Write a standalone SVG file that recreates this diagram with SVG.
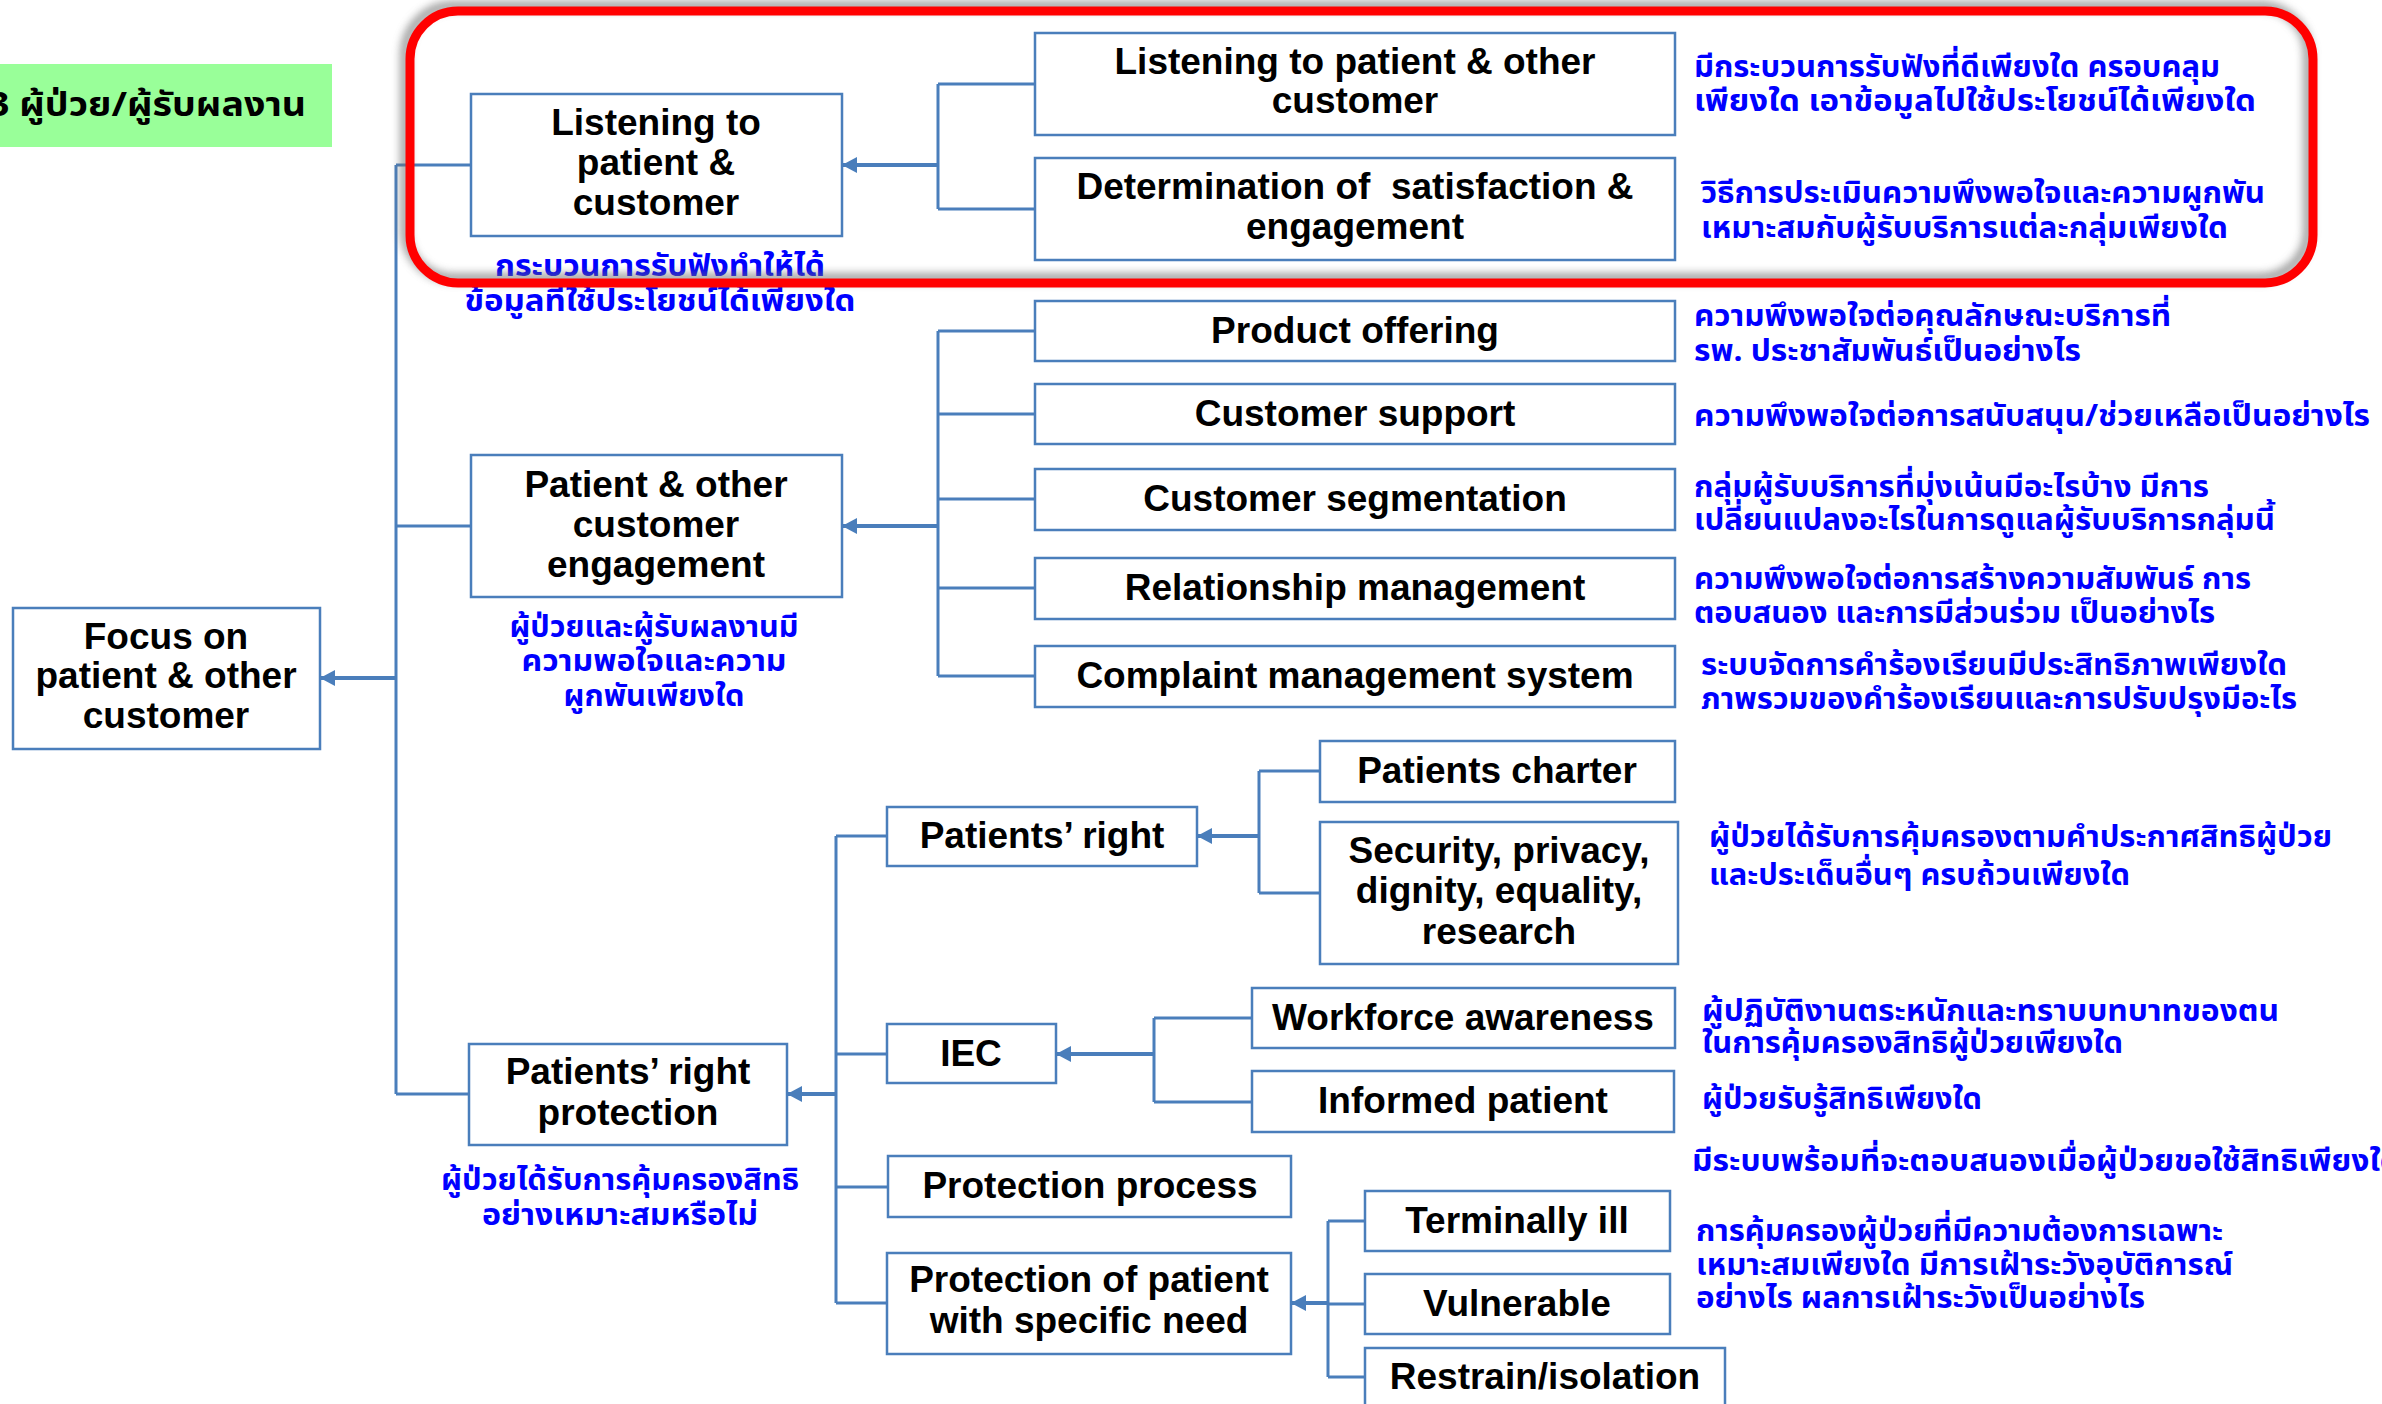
<svg xmlns="http://www.w3.org/2000/svg" width="2382" height="1404" viewBox="0 0 2382 1404">
  <defs>
    <style>
      .box { fill: #ffffff; stroke: #4a7ebb; stroke-width: 2.5; }
      .lbl { font-family: "Liberation Sans", Arial, sans-serif; font-weight: bold; font-size: 37px; fill: #000000; text-anchor: middle; white-space: pre; }
      .th { font-family: "Noto Sans Thai", "Noto Sans Thai Looped", Tahoma, "Noto Sans", "DejaVu Sans", sans-serif; font-size: 30px; font-weight: bold; fill: #0000ff; }
      .thc { text-anchor: middle; }
      .ln { fill: none; stroke: #4a7ebb; stroke-width: 3; }
      .ar { fill: none; stroke: #4a7ebb; stroke-width: 4; marker-end: url(#head); }
    </style>
    <marker id="head" markerUnits="userSpaceOnUse" markerWidth="16" markerHeight="18" refX="15" refY="9" orient="auto">
      <path d="M0,1 L15,9 L0,17 z" fill="#4a7ebb"/>
    </marker>
    <filter id="soft" x="-5%" y="-20%" width="110%" height="140%">
      <feGaussianBlur stdDeviation="4"/>
    </filter>
  </defs>

  <rect width="2382" height="1404" fill="#ffffff"/>

  <!-- heading tag -->
  <g id="heading">
    <rect x="0" y="64" width="332" height="83" fill="#99ff99"/>
    <text x="-12" y="116" textLength="318" lengthAdjust="spacingAndGlyphs" style="font-family: 'Noto Sans Thai', Tahoma, 'Noto Sans', sans-serif; font-size: 34px; font-weight: bold; fill: #000;">3 ผู้ป่วย/ผู้รับผลงาน</text>
  </g>

  <!-- connectors -->
  <g id="connectors">
    <!-- main trunk -->
    <path class="ln" d="M396,165 V1094 M396,165 H471 M396,526 H471 M396,1094 H469"/>
    <path class="ar" d="M396,678 H320"/>
    <!-- listening branch -->
    <path class="ln" d="M938,84 V209 M938,84 H1035 M938,209 H1035"/>
    <path class="ar" d="M938,165 H842"/>
    <!-- engagement branch -->
    <path class="ln" d="M938,331 V676 M938,331 H1035 M938,414 H1035 M938,499 H1035 M938,588 H1035 M938,676 H1035"/>
    <path class="ar" d="M938,526 H842"/>
    <!-- rights protection branch -->
    <path class="ln" d="M836,836 V1303 M836,836 H887 M836,1054 H887 M836,1187 H888 M836,1303 H887"/>
    <path class="ar" d="M836,1094 H787"/>
    <!-- patients' right -->
    <path class="ln" d="M1259,771 V893 M1259,771 H1320 M1259,893 H1320"/>
    <path class="ar" d="M1259,836 H1197"/>
    <!-- IEC -->
    <path class="ln" d="M1154,1018 V1102 M1154,1018 H1252 M1154,1102 H1252"/>
    <path class="ar" d="M1154,1054 H1056"/>
    <!-- specific need -->
    <path class="ln" d="M1328,1221 V1377 M1328,1221 H1365 M1328,1304 H1365 M1328,1377 H1365"/>
    <path class="ar" d="M1328,1303 H1291"/>
  </g>

  <!-- root -->
  <g id="n-focus">
    <rect class="box" x="13" y="608" width="307" height="141"/>
    <text class="lbl" x="166" y="649">Focus on</text>
    <text class="lbl" x="166" y="688">patient &amp; other</text>
    <text class="lbl" x="166" y="728">customer</text>
  </g>

  <!-- level 1 -->
  <g id="n-listen">
    <rect class="box" x="471" y="94" width="371" height="142"/>
    <text class="lbl" x="656" y="135">Listening to</text>
    <text class="lbl" x="656" y="175">patient &amp;</text>
    <text class="lbl" x="656" y="215">customer</text>
    <text class="th thc" x="660" y="276" textLength="330" lengthAdjust="spacingAndGlyphs">กระบวนการรับฟังทำให้ได้</text>
    <text class="th thc" x="660" y="311" textLength="391" lengthAdjust="spacingAndGlyphs">ข้อมูลที่ใช้ประโยชน์ได้เพียงใด</text>
  </g>

  <g id="n-engage">
    <rect class="box" x="471" y="455" width="371" height="142"/>
    <text class="lbl" x="656" y="497">Patient &amp; other</text>
    <text class="lbl" x="656" y="537">customer</text>
    <text class="lbl" x="656" y="577">engagement</text>
    <text class="th thc" x="654" y="637" textLength="289" lengthAdjust="spacingAndGlyphs">ผู้ป่วยและผู้รับผลงานมี</text>
    <text class="th thc" x="654" y="671" textLength="265" lengthAdjust="spacingAndGlyphs">ความพอใจและความ</text>
    <text class="th thc" x="654" y="706" textLength="181" lengthAdjust="spacingAndGlyphs">ผูกพันเพียงใด</text>
  </g>

  <g id="n-rights">
    <rect class="box" x="469" y="1044" width="318" height="101"/>
    <text class="lbl" x="628" y="1084">Patients’ right</text>
    <text class="lbl" x="628" y="1125">protection</text>
    <text class="th thc" x="620" y="1190" textLength="358" lengthAdjust="spacingAndGlyphs">ผู้ป่วยได้รับการคุ้มครองสิทธิ</text>
    <text class="th thc" x="620" y="1225" textLength="276" lengthAdjust="spacingAndGlyphs">อย่างเหมาะสมหรือไม่</text>
  </g>

  <!-- listening children -->
  <g id="n-listen-other">
    <rect class="box" x="1035" y="33" width="640" height="102"/>
    <text class="lbl" x="1355" y="74">Listening to patient &amp; other</text>
    <text class="lbl" x="1355" y="113">customer</text>
    <text class="th" x="1694" y="77" textLength="526" lengthAdjust="spacingAndGlyphs">มีกระบวนการรับฟังที่ดีเพียงใด ครอบคลุม</text>
    <text class="th" x="1694" y="111" textLength="562" lengthAdjust="spacingAndGlyphs">เพียงใด เอาข้อมูลไปใช้ประโยชน์ได้เพียงใด</text>
  </g>

  <g id="n-satisfaction">
    <rect class="box" x="1035" y="158" width="640" height="102"/>
    <text class="lbl" x="1355" y="199">Determination of  satisfaction &amp;</text>
    <text class="lbl" x="1355" y="239">engagement</text>
    <text class="th" x="1701" y="203" textLength="564" lengthAdjust="spacingAndGlyphs">วิธีการประเมินความพึงพอใจและความผูกพัน</text>
    <text class="th" x="1701" y="238" textLength="527" lengthAdjust="spacingAndGlyphs">เหมาะสมกับผู้รับบริการแต่ละกลุ่มเพียงใด</text>
  </g>

  <!-- engagement children -->
  <g id="n-product">
    <rect class="box" x="1035" y="301" width="640" height="60"/>
    <text class="lbl" x="1355" y="343">Product offering</text>
    <text class="th" x="1694" y="326" textLength="477" lengthAdjust="spacingAndGlyphs">ความพึงพอใจต่อคุณลักษณะบริการที่</text>
    <text class="th" x="1694" y="361" textLength="387" lengthAdjust="spacingAndGlyphs">รพ. ประชาสัมพันธ์เป็นอย่างไร</text>
  </g>

  <g id="n-support">
    <rect class="box" x="1035" y="384" width="640" height="60"/>
    <text class="lbl" x="1355" y="426">Customer support</text>
    <text class="th" x="1694" y="426" textLength="676" lengthAdjust="spacingAndGlyphs">ความพึงพอใจต่อการสนับสนุน/ช่วยเหลือเป็นอย่างไร</text>
  </g>

  <g id="n-segmentation">
    <rect class="box" x="1035" y="469" width="640" height="61"/>
    <text class="lbl" x="1355" y="511">Customer segmentation</text>
    <text class="th" x="1694" y="497" textLength="515" lengthAdjust="spacingAndGlyphs">กลุ่มผู้รับบริการที่มุ่งเน้นมีอะไรบ้าง มีการ</text>
    <text class="th" x="1694" y="530" textLength="581" lengthAdjust="spacingAndGlyphs">เปลี่ยนแปลงอะไรในการดูแลผู้รับบริการกลุ่มนี้</text>
  </g>

  <g id="n-relationship">
    <rect class="box" x="1035" y="558" width="640" height="61"/>
    <text class="lbl" x="1355" y="600">Relationship management</text>
    <text class="th" x="1694" y="589" textLength="557" lengthAdjust="spacingAndGlyphs">ความพึงพอใจต่อการสร้างความสัมพันธ์ การ</text>
    <text class="th" x="1694" y="623" textLength="521" lengthAdjust="spacingAndGlyphs">ตอบสนอง และการมีส่วนร่วม เป็นอย่างไร</text>
  </g>

  <g id="n-complaint">
    <rect class="box" x="1035" y="646" width="640" height="61"/>
    <text class="lbl" x="1355" y="688">Complaint management system</text>
    <text class="th" x="1701" y="675" textLength="586" lengthAdjust="spacingAndGlyphs">ระบบจัดการคำร้องเรียนมีประสิทธิภาพเพียงใด</text>
    <text class="th" x="1701" y="709" textLength="596" lengthAdjust="spacingAndGlyphs">ภาพรวมของคำร้องเรียนและการปรับปรุงมีอะไร</text>
  </g>

  <!-- rights protection children -->
  <g id="n-patients-right">
    <rect class="box" x="887" y="807" width="310" height="59"/>
    <text class="lbl" x="1042" y="848">Patients’ right</text>
  </g>

  <g id="n-charter">
    <rect class="box" x="1320" y="741" width="355" height="61"/>
    <text class="lbl" x="1497" y="783">Patients charter</text>
  </g>

  <g id="n-security">
    <rect class="box" x="1320" y="822" width="358" height="142"/>
    <text class="lbl" x="1499" y="863">Security, privacy,</text>
    <text class="lbl" x="1499" y="903">dignity, equality,</text>
    <text class="lbl" x="1499" y="944">research</text>
    <text class="th" x="1709" y="847" textLength="623" lengthAdjust="spacingAndGlyphs">ผู้ป่วยได้รับการคุ้มครองตามคำประกาศสิทธิผู้ป่วย</text>
    <text class="th" x="1709" y="885" textLength="421" lengthAdjust="spacingAndGlyphs">และประเด็นอื่นๆ ครบถ้วนเพียงใด</text>
  </g>

  <g id="n-iec">
    <rect class="box" x="887" y="1024" width="169" height="59"/>
    <text class="lbl" x="971" y="1066">IEC</text>
  </g>

  <g id="n-workforce">
    <rect class="box" x="1252" y="988" width="423" height="60"/>
    <text class="lbl" x="1463" y="1030">Workforce awareness</text>
    <text class="th" x="1702" y="1021" textLength="577" lengthAdjust="spacingAndGlyphs">ผู้ปฏิบัติงานตระหนักและทราบบทบาทของตน</text>
    <text class="th" x="1702" y="1053" textLength="421" lengthAdjust="spacingAndGlyphs">ในการคุ้มครองสิทธิผู้ป่วยเพียงใด</text>
  </g>

  <g id="n-informed">
    <rect class="box" x="1252" y="1071" width="422" height="61"/>
    <text class="lbl" x="1463" y="1113">Informed patient</text>
    <text class="th" x="1702" y="1109" textLength="280" lengthAdjust="spacingAndGlyphs">ผู้ป่วยรับรู้สิทธิเพียงใด</text>
  </g>

  <g id="n-process">
    <rect class="box" x="888" y="1156" width="403" height="61"/>
    <text class="lbl" x="1090" y="1198">Protection process</text>
    <text class="th" x="1692" y="1171" textLength="708" lengthAdjust="spacingAndGlyphs">มีระบบพร้อมที่จะตอบสนองเมื่อผู้ป่วยขอใช้สิทธิเพียงใด</text>
  </g>

  <g id="n-specific">
    <rect class="box" x="887" y="1253" width="404" height="101"/>
    <text class="lbl" x="1089" y="1292">Protection of patient</text>
    <text class="lbl" x="1089" y="1333">with specific need</text>
    <text class="th" x="1696" y="1241" textLength="527" lengthAdjust="spacingAndGlyphs">การคุ้มครองผู้ป่วยที่มีความต้องการเฉพาะ</text>
    <text class="th" x="1696" y="1275" textLength="537" lengthAdjust="spacingAndGlyphs">เหมาะสมเพียงใด มีการเฝ้าระวังอุบัติการณ์</text>
    <text class="th" x="1696" y="1308" textLength="449" lengthAdjust="spacingAndGlyphs">อย่างไร ผลการเฝ้าระวังเป็นอย่างไร</text>
  </g>

  <g id="n-terminal">
    <rect class="box" x="1365" y="1191" width="305" height="60"/>
    <text class="lbl" x="1517" y="1233">Terminally ill</text>
  </g>

  <g id="n-vulnerable">
    <rect class="box" x="1365" y="1274" width="305" height="60"/>
    <text class="lbl" x="1517" y="1316">Vulnerable</text>
  </g>

  <g id="n-restrain">
    <rect class="box" x="1365" y="1348" width="360" height="62"/>
    <text class="lbl" x="1545" y="1389">Restrain/isolation</text>
  </g>

  <!-- highlight frame round the listening branch -->
  <g id="highlight">
    <rect x="410" y="11" width="1903" height="272" rx="48" fill="none" stroke="#707070" stroke-width="9" opacity="0.7" transform="translate(-5,-5)" filter="url(#soft)"/>
    <rect x="410" y="11" width="1903" height="272" rx="48" fill="none" stroke="#ff0000" stroke-width="9"/>
  </g>
</svg>
